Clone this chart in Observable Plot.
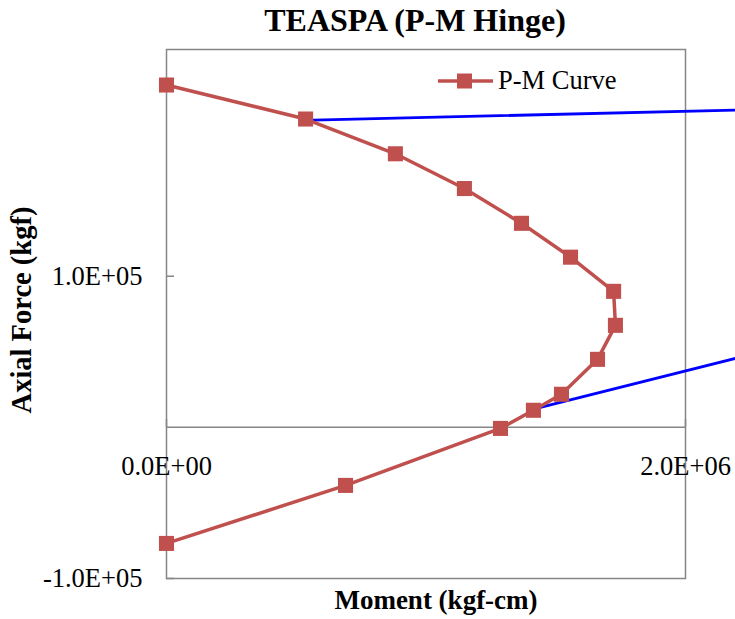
<!DOCTYPE html>
<html>
<head>
<meta charset="utf-8">
<script src="https://cdn.jsdelivr.net/npm/d3@7"></script>
<script src="https://cdn.jsdelivr.net/npm/@observablehq/plot@0.6"></script>
<style>
  body { margin: 0; background: #fff; }
  #wrap { position: relative; width: 735px; height: 619px; font-family: "Liberation Serif", "Times New Roman", serif; overflow: hidden; }
  .lbl { position: absolute; white-space: nowrap; color: #000; }
  #title { left: 415px; top: 2px; transform: translateX(-50%); font-size: 32px; font-weight: bold; }
  #xlabel { left: 436px; top: 585px; transform: translateX(-50%); font-size: 27px; font-weight: bold; }
  #ylabel { left: 22px; top: 310px; transform: translate(-50%, -50%) rotate(-90deg); font-size: 28.5px; font-weight: bold; }
  #legend { left: 438px; top: 65px; font-size: 26.5px; display: flex; align-items: center; }
  #legend svg { margin-right: 4px; }
</style>
</head>
<body>
<div id="wrap">
  <div id="chart"></div>
  <div id="title" class="lbl">TEASPA (P-M Hinge)</div>
  <div id="xlabel" class="lbl">Moment (kgf-cm)</div>
  <div id="ylabel" class="lbl">Axial Force (kgf)</div>
  <div id="legend" class="lbl"><svg width="56" height="20"><line x1="0" x2="55" y1="10" y2="10" stroke="#C0504D" stroke-width="3.5"/><rect x="19" y="2.5" width="15" height="15" fill="#C0504D"/></svg><span>P-M Curve</span></div>
</div>
<script>
// P-M interaction curve (Moment kgf-cm, Axial force kgf)
const moment = [0, 0.536e6, 0.882e6, 1.148e6, 1.368e6, 1.557e6, 1.723e6, 1.730e6, 1.661e6, 1.522e6, 1.414e6, 1.287e6, 0.690e6, 0];
const axial  = [2.265e5, 2.04e5, 1.81e5, 1.58e5, 1.35e5, 1.126e5, 0.90e5, 0.675e5, 0.45e5, 0.219e5, 0.113e5, -0.007e5, -0.384e5, -0.768e5];

// blue reference lines (start point, end point)
const blueId     = ["a", "a", "b", "b"];
const blueMoment = [0.566e6, 2.20e6, 1.441e6, 2.20e6];
const blueAxial  = [2.033e5, 2.099e5, 0.132e5, 0.460e5];

const xTicks = [0, 2e6];
const xTickLabels = ["0.0E+00", "2.0E+06"];
const yTicks = [-1e5, 1e5];
const yTickLabels = ["-1.0E+05", "1.0E+05"];

const curve = moment.map((m, i) => ({M: m, P: axial[i]}));
const blue = blueMoment.map((m, i) => ({id: blueId[i], M: m, P: blueAxial[i]}));

const axisColor = "#868686";
const red = "#C0504D";

const plot = Plot.plot({
  width: 735,
  height: 619,
  marginLeft: 166,
  marginRight: 50,
  marginTop: 49,
  marginBottom: 41,
  style: {fontFamily: "Liberation Serif, Times New Roman, serif", background: "transparent"},
  x: {domain: [0, 2e6], axis: null},
  y: {domain: [-1e5, 2.5e5], axis: null},
  marks: [
    Plot.frame({stroke: axisColor, strokeWidth: 1.5}),
    Plot.ruleY([0], {stroke: axisColor, strokeWidth: 1.5}),
    Plot.ruleY(yTicks, {y: d => d, x1: 0, x2: 0, insetRight: -8, stroke: axisColor, strokeWidth: 1.5}),
    Plot.ruleX(xTicks, {x: d => d, y1: 0, y2: 0, insetTop: -8, stroke: axisColor, strokeWidth: 1.5}),
    Plot.text(yTicks, {y: d => d, x: () => 0, text: (d, i) => yTickLabels[i], textAnchor: "end", dx: -24, fontSize: 26.5, fill: "#000"}),
    Plot.text(xTicks, {x: d => d, y: () => 0, text: (d, i) => xTickLabels[i], dy: 39, fontSize: 26.5, fill: "#000"}),
    Plot.line(blue, {x: "M", y: "P", z: "id", stroke: "#0000FF", strokeWidth: 2.8}),
    Plot.line(curve, {x: "M", y: "P", stroke: red, strokeWidth: 3.5, curve: "linear"}),
    Plot.dot(curve, {x: "M", y: "P", symbol: "square", fill: red, r: 8.5, stroke: null})
  ]
});
document.getElementById("chart").appendChild(plot);
</script>
</body>
</html>
